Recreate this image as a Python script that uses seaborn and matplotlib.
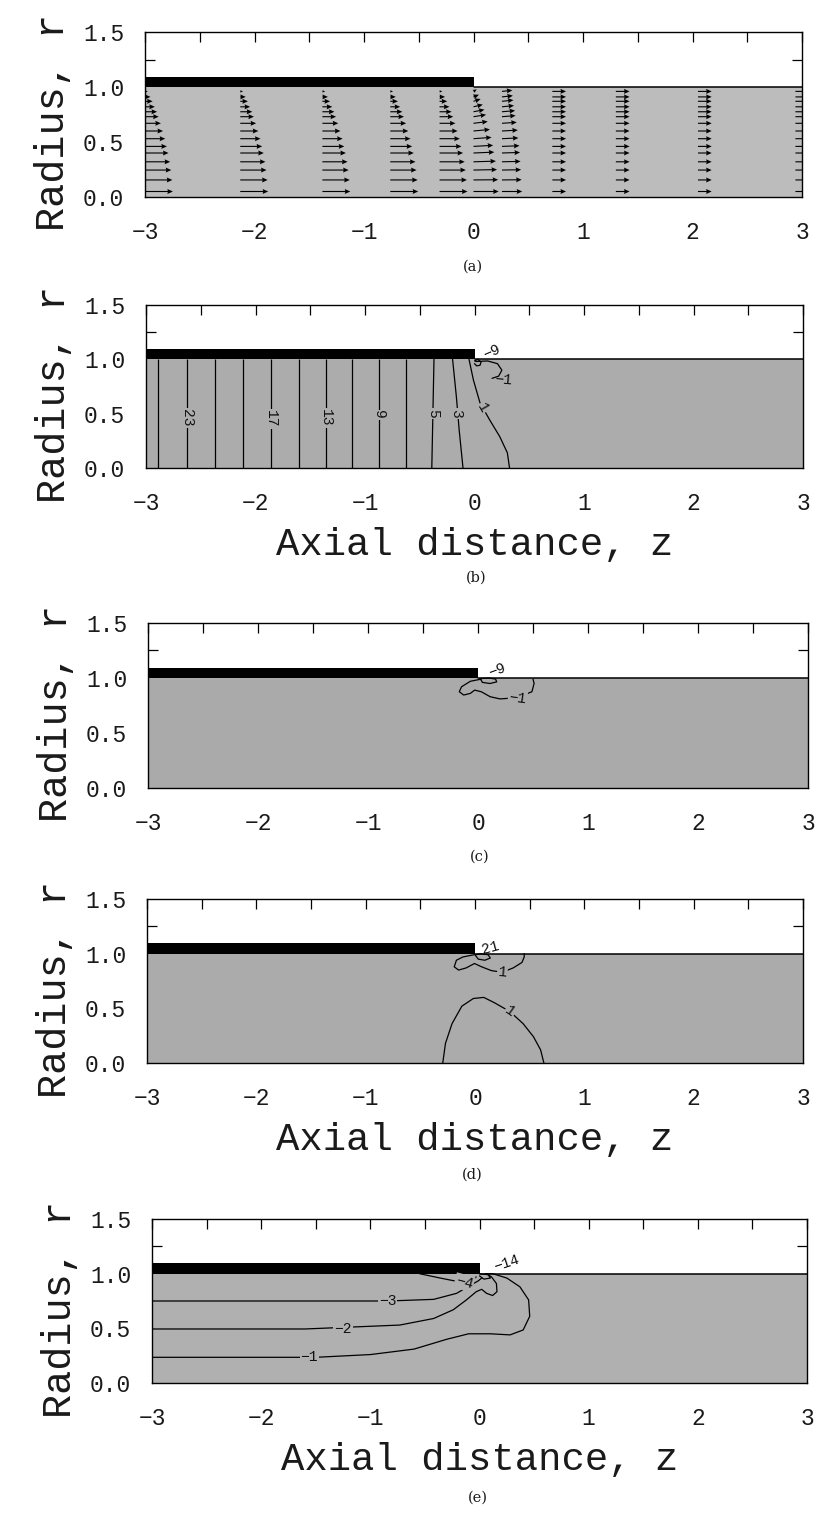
import numpy as np
import matplotlib
matplotlib.use("Agg")
import matplotlib.pyplot as plt
import seaborn as sns

# ---------------- geometry of the problem ----------------
z_range = [-3.0, 3.0]
die_exit_z = 0.0
jet_radius = 1.0
die_wall_r = [1.0, 1.095]

x_ticks = [-3, -2, -1, 0, 1, 2, 3]
x_tick_labels = ["\u22123", "\u22122", "\u22121", "0", "1", "2", "3"]
x_top_half_ticks = [-2.5, -1.5, -0.5, 0.5, 1.5, 2.5]
y_ticks = [0.0, 0.5, 1.0, 1.5]
y_tick_labels = ["0.0", "0.5", "1.0", "1.5"]
y_side_ticks = [1.25]

# ---------------- (a) velocity vectors ----------------
a_station_z = [-3.0, -2.13, -1.38, -0.76, -0.31, 0.0, 0.26, 0.72, 1.30, 2.05, 2.94]
a_station_kind = ["die", "die", "die", "die", "die", "exit", "near", "jet", "jet", "jet", "jet"]
a_rows_r = [0.05, 0.155, 0.245, 0.32, 0.40, 0.46, 0.53, 0.60, 0.67, 0.73, 0.775, 0.82, 0.87, 0.91, 0.96]
a_u_die = [0.255, 0.25, 0.24, 0.23, 0.215, 0.20, 0.185, 0.165, 0.145, 0.125, 0.11, 0.09, 0.07, 0.05, 0.025]
a_v_die = [0.0] * 15
a_u_exit = [0.23, 0.225, 0.215, 0.205, 0.19, 0.18, 0.165, 0.15, 0.13, 0.115, 0.10, 0.085, 0.065, 0.05, 0.03]
a_v_exit = [0.0, 0.002, 0.004, 0.006, 0.008, 0.010, 0.012, 0.014, 0.016, 0.018, 0.019, 0.020, 0.021, 0.020, 0.018]
a_u_near = [0.185, 0.18, 0.175, 0.17, 0.165, 0.16, 0.15, 0.145, 0.135, 0.125, 0.12, 0.11, 0.105, 0.10, 0.095]
a_v_near = [0.0, 0.002, 0.003, 0.004, 0.005, 0.006, 0.007, 0.008, 0.009, 0.010, 0.010, 0.011, 0.011, 0.011, 0.010]
a_u_jet = [0.125, 0.125, 0.125, 0.125, 0.125, 0.125, 0.125, 0.125, 0.125, 0.125, 0.125, 0.125, 0.125, 0.125, 0.125]
a_v_jet = [0.0] * 15

# ---------------- (b) contours ----------------
b_line_levels = [25, 23, 21, 19, 17, 15, 13, 11, 9, 7]
b_line_z = [-2.89, -2.63, -2.37, -2.11, -1.86, -1.60, -1.36, -1.12, -0.87, -0.63]
b_c5_z = [-0.39, -0.385, -0.38, -0.375, -0.37]
b_c5_r = [0.0, 0.25, 0.5, 0.75, 1.0]
b_c3_z = [-0.105, -0.14, -0.165, -0.19, -0.20]
b_c3_r = [0.0, 0.35, 0.65, 0.9, 1.0]
b_c1_z = [-0.05, -0.01, 0.05, 0.14, 0.23, 0.30, 0.32]
b_c1_r = [1.0, 0.81, 0.60, 0.44, 0.29, 0.14, 0.0]
b_cm1_z = [0.01, 0.12, 0.21, 0.25, 0.22, 0.16]
b_cm1_r = [0.98, 0.985, 0.96, 0.90, 0.845, 0.825]
b_cm9_z = [0.0, 0.03, 0.06, 0.05, 0.02, 0.0]
b_cm9_r = [0.985, 1.0, 0.975, 0.945, 0.94, 0.96]
b_labels = [("23", -2.63, 0.46, -90), ("17", -1.86, 0.45, -90), ("13", -1.36, 0.46, -90),
            ("9", -0.87, 0.49, -90), ("5", -0.38, 0.50, -90), ("3", -0.165, 0.50, -90),
            ("1", 0.07, 0.55, -60)]
b_free_labels = [("\u22121", 0.26, 0.81, -5), ("\u22129", 0.16, 1.065, 23)]

# ---------------- (c) contours ----------------
c_cm1_z = [0.03, -0.07, -0.15, -0.17, -0.13, -0.07, -0.03, 0.03, 0.11, 0.20, 0.35, 0.49, 0.51, 0.50]
c_cm1_r = [0.99, 0.97, 0.92, 0.875, 0.845, 0.86, 0.89, 0.875, 0.83, 0.81, 0.82, 0.875, 0.95, 0.99]
c_cm9_z = [0.02, 0.10, 0.16, 0.17, 0.11, 0.04, 0.02]
c_cm9_r = [0.995, 1.0, 0.99, 0.965, 0.95, 0.96, 0.995]
c_labels = [("\u22121", 0.36, 0.82, -8)]
c_free_labels = [("\u22129", 0.17, 1.07, 20)]

# ---------------- (d) contours ----------------
d_c1_top_z = [-0.01, -0.11, -0.17, -0.19, -0.15, -0.08, -0.005, 0.06, 0.15, 0.25, 0.35, 0.43, 0.45, 0.45]
d_c1_top_r = [0.99, 0.97, 0.94, 0.88, 0.85, 0.87, 0.91, 0.88, 0.845, 0.83, 0.87, 0.92, 0.97, 1.0]
d_c21_z = [0.0, 0.05, 0.12, 0.14, 0.09, 0.03, 0.0]
d_c21_r = [0.99, 1.0, 0.99, 0.96, 0.94, 0.95, 0.99]
d_c1_dome_z = [-0.295, -0.27, -0.21, -0.12, -0.015, 0.08, 0.18, 0.32, 0.44, 0.535, 0.60, 0.63]
d_c1_dome_r = [0.0, 0.18, 0.36, 0.52, 0.59, 0.60, 0.55, 0.47, 0.36, 0.24, 0.12, 0.0]
d_labels = [("1", 0.25, 0.83, -5), ("1", 0.32, 0.47, -35)]
d_free_labels = [("21", 0.14, 1.055, 15)]

# ---------------- (e) contours ----------------
e_cm1_z = [-3.0, -1.5, -1.0, -0.6, -0.3, -0.1, 0.1, 0.28, 0.40, 0.46, 0.45, 0.37, 0.25, 0.12, 0.05]
e_cm1_r = [0.235, 0.235, 0.26, 0.31, 0.40, 0.45, 0.45, 0.44, 0.485, 0.61, 0.76, 0.88, 0.96, 1.0, 1.0]
e_cm2_z = [-3.0, -1.6, -0.73, -0.42, -0.24, -0.12, -0.03, 0.02, 0.065, 0.12, 0.16, 0.155, 0.11, 0.065]
e_cm2_r = [0.494, 0.494, 0.53, 0.59, 0.67, 0.76, 0.835, 0.857, 0.82, 0.80, 0.835, 0.91, 0.97, 1.0]
e_cm3_z = [-3.0, -1.6, -0.84, -0.42, -0.21, -0.09, -0.01, 0.02]
e_cm3_r = [0.75, 0.75, 0.75, 0.765, 0.82, 0.89, 0.935, 0.96]
e_cm4_z = [-0.55, -0.36, -0.21, -0.14, -0.07, -0.03]
e_cm4_r = [1.0, 0.96, 0.93, 0.92, 0.94, 0.97]
e_cm14_z = [0.0, 0.08, 0.10, 0.04, 0.0]
e_cm14_r = [1.0, 0.99, 0.96, 0.95, 0.98]
e_labels = [("\u22121", -1.56, 0.235, 0), ("\u22122", -1.25, 0.494, 0),
            ("\u22123", -0.84, 0.75, 0), ("\u22124", -0.14, 0.92, -15)]
e_free_labels = [("\u221214", 0.25, 1.10, 18)]

# ---------------- style ----------------
sns.set_theme(style="white")
MONO = ["Liberation Mono", "DejaVu Sans Mono"]
plt.rcParams["font.family"] = MONO
plt.rcParams["axes.linewidth"] = 1.0
plt.rcParams["axes.edgecolor"] = "black"

FIG_W, FIG_H = 822, 1518
fig = plt.figure(figsize=(FIG_W / 100, FIG_H / 100), dpi=100)

# pixel boxes (left, right, top, bottom)
boxes = {
    "a": (145, 802, 32, 197),
    "b": (146, 803, 305, 468),
    "c": (148, 808, 623, 788),
    "d": (147, 803, 899, 1063),
    "e": (152, 807, 1219, 1383),
}
fills = {"a": "#bcbcbc", "b": "#acacac", "c": "#aaaaaa", "d": "#ababab", "e": "#b0b0b0"}
has_xlabel = {"a": False, "b": True, "c": False, "d": True, "e": True}
letter_pos = {"a": (473, 267), "b": (476, 578), "c": (480, 857), "d": (472, 1175), "e": (478, 1498)}
TEXT = "#1a1a1a"


def make_axes(key):
    l, r, t, b = boxes[key]
    ax = fig.add_axes([l / FIG_W, 1 - b / FIG_H, (r - l) / FIG_W, (b - t) / FIG_H])
    ax.set_xlim(*z_range)
    ax.set_ylim(0, 1.5)
    # domain
    ax.fill_between(z_range, 0, jet_radius, color=fills[key], linewidth=0, zorder=0.5)
    ax.fill_between([z_range[0], die_exit_z], die_wall_r[0], die_wall_r[1],
                    color="black", linewidth=0, zorder=3)
    ax.plot([die_exit_z, z_range[1]], [jet_radius, jet_radius], color="black", lw=1.1, zorder=3)
    # ticks
    ax.set_xticks(x_ticks)
    ax.set_xticklabels(x_tick_labels)
    ax.set_xticks(x_top_half_ticks, minor=True)
    ax.set_yticks(y_ticks)
    ax.set_yticklabels(y_tick_labels)
    ax.set_yticks(y_side_ticks, minor=True)
    ax.tick_params(axis="x", which="both", bottom=False, top=True, direction="in",
                   length=7, width=0.9, color="black", labelbottom=True, labeltop=False,
                   pad=17, labelsize=16.5, labelcolor=TEXT)
    ax.tick_params(axis="y", which="major", left=False, right=False, pad=9,
                   labelsize=16.5, labelcolor=TEXT)
    ax.tick_params(axis="y", which="minor", left=True, right=True, direction="in",
                   length=7, width=0.9, color="black")
    for s in ax.spines.values():
        s.set_visible(True)
        s.set_color("black")
        s.set_linewidth(1.0)
        s.set_zorder(4)
    ax.set_ylabel("Radius, r", fontsize=29, color=TEXT)
    ax.yaxis.label.set_verticalalignment("center")
    ax.yaxis.set_label_coords(-92 / (r - l), 0.45)
    if has_xlabel[key]:
        ax.set_xlabel("Axial distance, z", fontsize=28, color=TEXT)
        ax.xaxis.set_label_coords(0.5, -0.36)
    lx, ly = letter_pos[key]
    fig.text(lx / FIG_W, 1 - ly / FIG_H, "(%s)" % key, ha="center", va="center",
             fontsize=10.5, family="DejaVu Serif", color=TEXT)
    return ax


def curve(ax, zs, rs):
    sns.lineplot(x=zs, y=rs, sort=False, estimator=None, color="black",
                 linewidth=0.9, ax=ax, legend=False, zorder=2)


def labels(ax, items, bg):
    for txt, z, r, rot in items:
        kw = dict(ha="center", va="center", rotation=rot, rotation_mode="anchor",
                  fontsize=10.5, color="#111111", zorder=5)
        if bg is not None:
            kw["bbox"] = dict(facecolor=bg, edgecolor="none", pad=0.6)
        ax.text(z, r, txt, **kw)


# ---------------- (a) ----------------
ax = make_axes("a")
profiles = {"die": (a_u_die, a_v_die), "exit": (a_u_exit, a_v_exit),
            "near": (a_u_near, a_v_near), "jet": (a_u_jet, a_v_jet)}
for z0, kind in zip(a_station_z, a_station_kind):
    u, v = profiles[kind]
    ax.quiver([z0] * len(a_rows_r), a_rows_r, u, v, angles="xy", scale_units="xy", scale=1,
              width=0.0017, headwidth=4.5, headlength=5, headaxislength=4.5,
              color="black", zorder=2)

# ---------------- (b) ----------------
ax = make_axes("b")
ax.vlines(b_line_z, 0, jet_radius, color="black", linewidth=0.9, zorder=2)
curve(ax, b_c5_z, b_c5_r)
curve(ax, b_c3_z, b_c3_r)
curve(ax, b_c1_z, b_c1_r)
curve(ax, b_cm1_z, b_cm1_r)
curve(ax, b_cm9_z, b_cm9_r)
labels(ax, b_labels, fills["b"])
labels(ax, b_free_labels, None)

# ---------------- (c) ----------------
ax = make_axes("c")
curve(ax, c_cm1_z, c_cm1_r)
curve(ax, c_cm9_z, c_cm9_r)
labels(ax, c_labels, fills["c"])
labels(ax, c_free_labels, None)

# ---------------- (d) ----------------
ax = make_axes("d")
curve(ax, d_c1_top_z, d_c1_top_r)
curve(ax, d_c21_z, d_c21_r)
curve(ax, d_c1_dome_z, d_c1_dome_r)
labels(ax, d_labels, fills["d"])
labels(ax, d_free_labels, None)

# ---------------- (e) ----------------
ax = make_axes("e")
curve(ax, e_cm1_z, e_cm1_r)
curve(ax, e_cm2_z, e_cm2_r)
curve(ax, e_cm3_z, e_cm3_r)
curve(ax, e_cm4_z, e_cm4_r)
curve(ax, e_cm14_z, e_cm14_r)
labels(ax, e_labels, fills["e"])
labels(ax, e_free_labels, None)

fig.savefig("out.png", dpi=100, facecolor="white")
